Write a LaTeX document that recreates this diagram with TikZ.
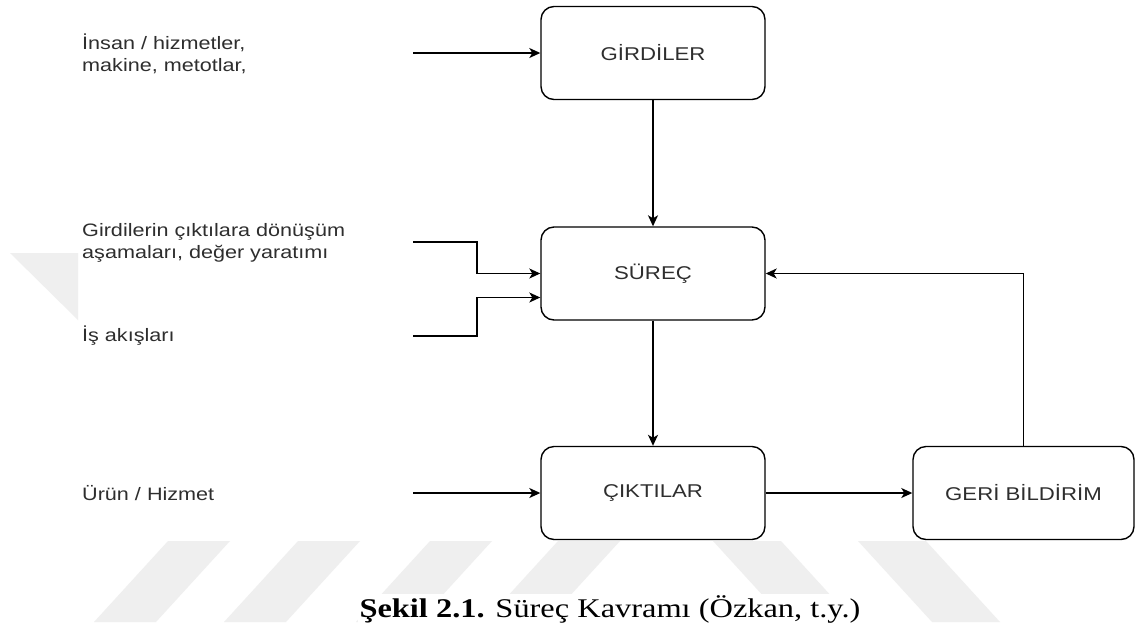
\documentclass[tikz,border=0pt]{standalone}
\usepackage{fontspec}
\setmainfont{Liberation Sans}
\newfontfamily\diafont[FakeStretch=1.2]{Liberation Sans}
\newfontfamily\capfont[FakeStretch=1.2]{Liberation Serif}
\usetikzlibrary{arrows.meta}
\definecolor{txtgray}{HTML}{2E2E2E}
\definecolor{wmark}{HTML}{EFEFEF}
\tikzset{
  box/.style={draw, line width=1.4pt, rounded corners=13pt, minimum width=224pt, minimum height=93pt, inner sep=0pt, text=txtgray, font=\diafont\fontsize{18.5}{22}\selectfont},
  lbl/.style={anchor=west, align=left, inner sep=0pt, text=txtgray, font=\diafont\fontsize{18}{22}\selectfont},
  arr/.style={-{Stealth[length=11pt,width=10pt,inset=3pt]}, line width=1.4pt},
}
\begin{document}
\begin{tikzpicture}[x=1pt, y=-1pt]
\fill[white] (0,0) rectangle (1138,630);
\useasboundingbox (0,0) rectangle (1138,630);
% watermark
\fill[wmark] (10,253) -- (78,253) -- (78,320) -- cycle;
\foreach \xt in {168,298,430,558} {
  \fill[wmark] (\xt,541) -- ++(62,0) -- ++(-74,81) -- ++(-62,0) -- cycle;
}
\foreach \xt in {713,858} {
  \fill[wmark] (\xt,541) -- ++(68,0) -- ++(74,81) -- ++(-68,0) -- cycle;
}
\fill[white] (358,594) rectangle (862,630);
% boxes
\node[box] (girdi) at (653,53) {GİRDİLER};
\node[box] (surec) at (653,273.5) {SÜREÇ};
\node[box] (cikti) at (653,493) {ÇIKTILAR};
\node[box, minimum width=221pt] (geri) at (1023.5,493) {GERİ BİLDİRİM};
% left labels
\node[lbl] (insan) at (82,54) {İnsan / hizmetler,\\makine, metotlar,};
\node[lbl] (donusum) at (82,242.5) {Girdilerin çıktılara dönüşüm\\aşamaları, değer yaratımı};
\node[lbl] (akis) at (82,336) {İş akışları};
\node[lbl] (urun) at (82,493) {Ürün / Hizmet};
\coordinate (s1) at (413,53);
\coordinate (s2) at (413,242);
\coordinate (s3) at (413,336);
\coordinate (s4) at (413,493);
% connectors
\draw[arr] (s1) -- (girdi.west);
\draw[arr] (s2) -- ++(64,0) |- (surec.west);
\draw[arr] (s3) -- ++(64,0) |- ([yshift=-24pt]surec.west);
\draw[arr] (s4) -- (cikti.west);
\draw[arr] (girdi.south) -- (surec.north);
\draw[arr] (surec.south) -- (cikti.north);
\draw[arr] (cikti.east) -- (geri.west);
\draw[arr] (geri.north) |- (surec.east);
% caption
\node[anchor=base, inner sep=0pt, font=\capfont\fontsize{27}{32}\selectfont] (caption) at (610,617) {\textbf{Şekil 2.1.} Süreç Kavramı (Özkan, t.y.)};
\end{tikzpicture}
\end{document}
